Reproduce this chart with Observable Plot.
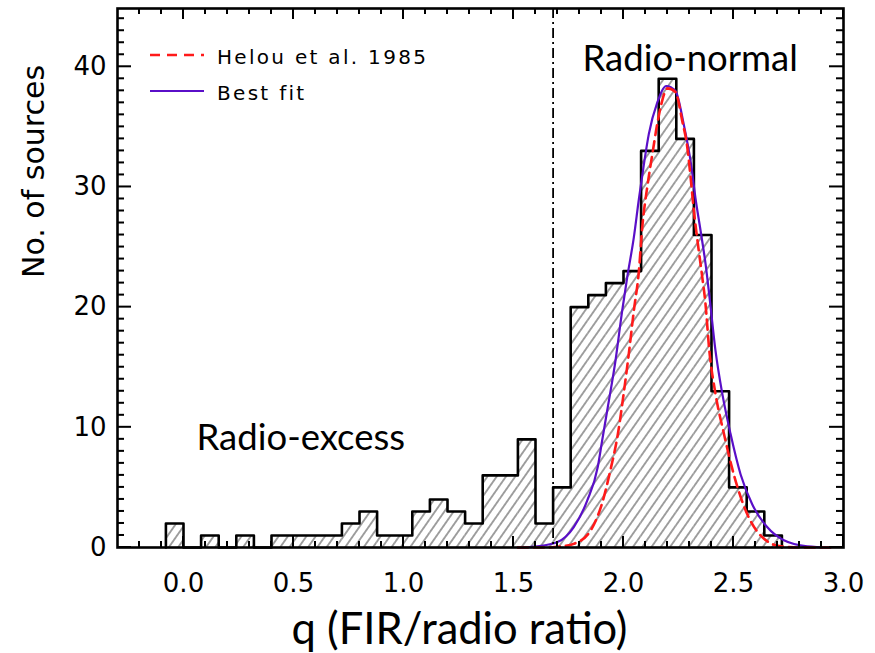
<!DOCTYPE html>
<html>
<head>
<meta charset="utf-8">
<script src="https://cdn.jsdelivr.net/npm/d3@7"></script>
<script src="https://cdn.jsdelivr.net/npm/@observablehq/plot@0.6"></script>
<style>
  body { margin: 0; background: #fff; }
</style>
</head>
<body>
<div id="chart"></div>
<script>
// ---------- data ----------
const binWidth = 0.08;
const binStarts = [-0.08, 0.00, 0.08, 0.16, 0.24, 0.32, 0.40, 0.48, 0.56, 0.64,
                   0.72, 0.80, 0.88, 0.96, 1.04, 1.12, 1.20, 1.28, 1.36, 1.44,
                   1.52, 1.60, 1.68, 1.76, 1.84, 1.92, 2.00, 2.08, 2.16, 2.24,
                   2.32, 2.40, 2.48, 2.56, 2.64];
const counts =    [2, 0, 1, 0, 1, 0, 1, 1, 1, 1,
                   2, 3, 1, 1, 3, 4, 3, 2, 6, 6,
                   9, 2, 5, 20, 21, 22, 23, 33, 39, 34,
                   26, 13, 5, 3, 1];

// Helou et al. 1985 curve (red dashed)
const helouQ = [1.52, 1.65, 1.72, 1.774, 1.85, 1.903, 1.94, 1.975, 2.0, 2.024,
                2.047, 2.07, 2.085, 2.108, 2.13, 2.153, 2.172, 2.2, 2.236, 2.267,
                2.29, 2.305, 2.32, 2.34, 2.358, 2.372, 2.39, 2.418, 2.456, 2.501,
                2.555, 2.623, 2.714, 2.8, 2.94];
const helouN = [0, 0, 0.1, 0.3, 1.4, 3.7, 6.4, 9.5, 12.7, 16.1,
                19.7, 23.0, 26.6, 30.0, 32.6, 35.2, 36.9, 38.2, 37.9, 35.5,
                33.3, 30.8, 28.0, 25.0, 22.5, 20.4, 16.4, 12.8, 9.5, 6.1,
                3.1, 1.0, 0.1, 0, 0];

// Best fit curve (purple solid)
const fitQ = [1.52, 1.61, 1.70, 1.774, 1.835, 1.883, 1.903, 1.926, 1.964, 1.994,
              2.017, 2.047, 2.07, 2.092, 2.115, 2.153, 2.195, 2.236, 2.274, 2.307,
              2.327, 2.35, 2.373, 2.393, 2.418, 2.449, 2.486, 2.532, 2.585, 2.653,
              2.729, 2.835, 2.94];
const fitN = [0, 0.1, 0.45, 1.7, 3.9, 6.7, 8.9, 11.4, 15.6, 19.7,
              22.5, 25.8, 29.0, 31.8, 34.4, 37.0, 38.4, 38.0, 35.2, 31.9,
              29.1, 26.4, 23.6, 20.5, 16.4, 12.8, 9.5, 6.1, 3.6, 1.7,
              0.6, 0.1, 0];

const qCut = [1.68];                                   // dash-dot divider
const xMajor = [0.0, 0.5, 1.0, 1.5, 2.0, 2.5, 3.0];
const xMinor = [-0.2, -0.1, 0.1, 0.2, 0.3, 0.4, 0.6, 0.7, 0.8, 0.9, 1.1, 1.2, 1.3, 1.4,
                1.6, 1.7, 1.8, 1.9, 2.1, 2.2, 2.3, 2.4, 2.6, 2.7, 2.8, 2.9];
const yMajor = [0, 10, 20, 30, 40];
const yMinor = [1,2,3,4,5,6,7,8,9,11,12,13,14,15,16,17,18,19,21,22,23,24,25,26,27,28,29,
                31,32,33,34,35,36,37,38,39,41,42,43,44];

// ---------- layout ----------
const W = 875, H = 653;
const mL = 117, mR = 32, mT = 8, mB = 106;
const xDom = [-0.3, 3.0], yDom = [0, 44.85];
const kX = (W - mL - mR) / (xDom[1] - xDom[0]);   // px per data unit
const kY = (H - mT - mB) / (yDom[1] - yDom[0]);
const tickFont = "DejaVu Sans";

const bars = binStarts.map((s, i) => ({x1: s, x2: s + binWidth, n: counts[i]}));
const outline = [{q: binStarts[0], n: 0}]
  .concat(binStarts.map((s, i) => ({q: s, n: counts[i]})))
  .concat([{q: binStarts[binStarts.length - 1] + binWidth, n: 0}]);
const helou = helouQ.map((q, i) => ({q, n: helouN[i]}));
const fit = fitQ.map((q, i) => ({q, n: fitN[i]}));

// inward tick marks as thin filled rectangles (sizes in px converted to data units)
const tw = 2;                       // tick thickness, px
const tickRects = [];
function addX(v, len) {
  const h = tw / 2 / kX, L = len / kY;
  tickRects.push({x1: v - h, x2: v + h, y1: yDom[0], y2: yDom[0] + L});
  tickRects.push({x1: v - h, x2: v + h, y1: yDom[1] - L, y2: yDom[1]});
}
function addY(v, len) {
  const h = tw / 2 / kY, L = len / kX;
  tickRects.push({y1: v - h, y2: v + h, x1: xDom[0], x2: xDom[0] + L});
  tickRects.push({y1: v - h, y2: v + h, x1: xDom[1] - L, x2: xDom[1]});
}
xMinor.forEach(v => addX(v, 6));
xMajor.forEach(v => addX(v, 11));
yMinor.forEach(v => addY(v, 7));
yMajor.forEach(v => addY(v, 14));

const chart = Plot.plot({
  width: W, height: H,
  marginLeft: mL, marginRight: mR, marginTop: mT, marginBottom: mB,
  x: {domain: xDom, axis: null},
  y: {domain: yDom, axis: null},
  marks: [
    Plot.rectY(bars, {x1: "x1", x2: "x2", y: "n", fill: "url(#hatch)", inset: 0}),
    Plot.line(outline, {x: "q", y: "n", curve: "step-after", stroke: "#000", strokeWidth: 2.6}),
    Plot.line(fit, {x: "q", y: "n", curve: "monotone-x", stroke: "#5a0fc8", strokeWidth: 2.2}),
    Plot.line(helou, {x: "q", y: "n", curve: "monotone-x", stroke: "#ff1a1a", strokeWidth: 2.6, strokeDasharray: "10,6"}),
    Plot.ruleX(qCut, {stroke: "#000", strokeWidth: 1.8, strokeDasharray: "10,4,2,4"}),
    Plot.frame({stroke: "#000", strokeWidth: 2.6}),
    // tick labels
    Plot.text(xMajor, {x: d => d, frameAnchor: "bottom", lineAnchor: "middle", dy: 36,
      text: d => d3.format(".1f")(d), fontFamily: tickFont, fontSize: 26, fill: "#000"}),
    Plot.text(yMajor, {y: d => d, frameAnchor: "left", lineAnchor: "middle", dx: -11, textAnchor: "end",
      text: d => String(d), fontFamily: tickFont, fontSize: 26, fill: "#000"}),
    // axis titles
    Plot.text(["No. of sources"], {frameAnchor: "left", lineAnchor: "middle", dx: -83, rotate: -90, text: d => d,
      fontFamily: tickFont, fontSize: 30, fill: "#000", letterSpacing: 1}),
    Plot.text(["q (FIR/radio ratio)"], {frameAnchor: "bottom", lineAnchor: "middle", dx: -21, dy: 82.6, text: d => d,
      fontFamily: "Lato", fontSize: 43.5, letterSpacing: 1, fill: "#000"}),
    // annotations
    Plot.text(["Radio-normal"], {frameAnchor: "top-left", lineAnchor: "middle", dx: 465, dy: 50.5,
      textAnchor: "start", text: d => d, fontFamily: "Lato", fontSize: 36.5, fill: "#000"}),
    Plot.text(["Radio-excess"], {frameAnchor: "top-left", lineAnchor: "middle", dx: 79, dy: 429.5,
      textAnchor: "start", text: d => d, fontFamily: "Lato", fontSize: 36.5, fill: "#000"}),
    // ticks drawn last so nothing covers them
    Plot.rect(tickRects, {x1: "x1", x2: "x2", y1: "y1", y2: "y2", fill: "#000", inset: 0})
  ]
});

const svg = d3.select(chart);

// hatch pattern for the histogram
const defs = svg.append("defs");
const pat = defs.append("pattern")
  .attr("id", "hatch").attr("patternUnits", "userSpaceOnUse")
  .attr("width", 7.6).attr("height", 10)
  .attr("patternTransform", "rotate(35)");
pat.append("line").attr("x1", 3.8).attr("y1", -1).attr("x2", 3.8).attr("y2", 11)
  .attr("stroke", "#555").attr("stroke-width", 1.1);

// legend (layout positions in px)
const leg = svg.append("g");
const legendItems = [
  {label: "Helou et al. 1985", color: "#ff1a1a", dash: "10,7", width: 2.6, y: 55},
  {label: "Best fit", color: "#5a0fc8", dash: null, width: 2.2, y: 91}
];
legendItems.forEach(it => {
  leg.append("line").attr("x1", 150).attr("x2", 204).attr("y1", it.y).attr("y2", it.y)
    .attr("stroke", it.color).attr("stroke-width", it.width)
    .attr("stroke-dasharray", it.dash);
  leg.append("text").attr("x", 217).attr("y", it.y + 9).text(it.label)
    .attr("text-anchor", "start")
    .attr("font-family", tickFont).attr("font-size", 20).attr("letter-spacing", 2.3)
    .attr("fill", "#000");
});

document.getElementById("chart").appendChild(chart);
</script>
</body>
</html>
